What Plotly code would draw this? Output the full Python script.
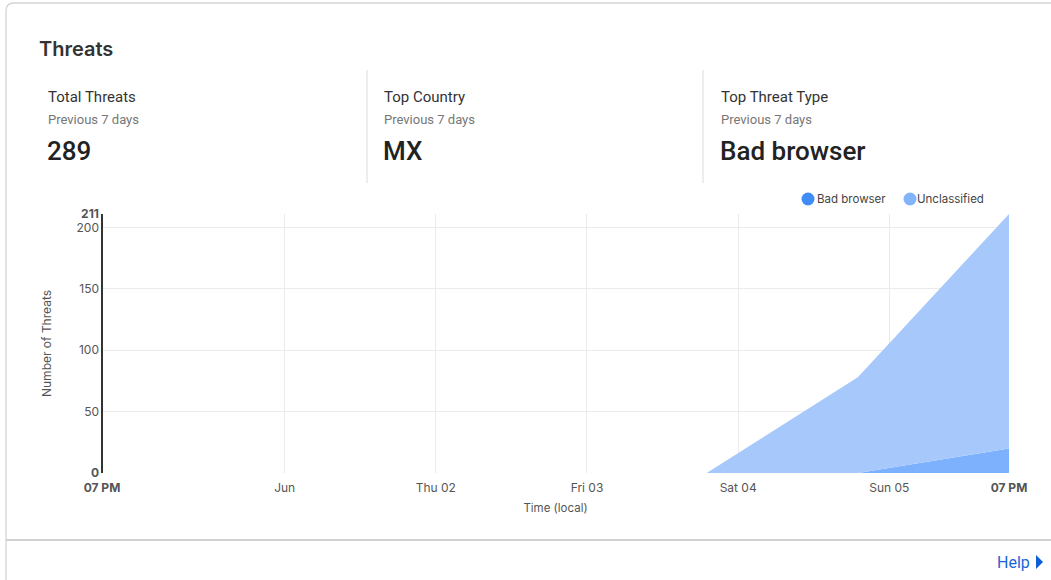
import plotly.graph_objects as go

# ---- data ----
times = ["2022-05-30 19:00", "2022-05-31 19:00", "2022-06-01 19:00", "2022-06-02 19:00",
         "2022-06-03 19:00", "2022-06-04 19:00", "2022-06-05 19:00"]
bad_browser = [0, 0, 0, 0, 0, 0, 20]
unclassified = [0, 0, 0, 0, 0, 78, 191]

x_tickvals = ["2022-05-30 19:00", "2022-06-01 00:00", "2022-06-02 00:00", "2022-06-03 00:00",
              "2022-06-04 00:00", "2022-06-05 00:00", "2022-06-05 19:00"]
x_ticktext = ["<b>07 PM</b>", "Jun", "Thu 02", "Fri 03", "Sat 04", "Sun 05", "<b>07 PM</b>"]
y_tickvals = [0, 50, 100, 150, 200, 211]
y_ticktext = ["<b>0</b>", "50", "100", "150", "200", "<b>211</b>"]

series_names = ["Bad browser", "Unclassified"]
stat_titles = ["Total Threats", "Top Country", "Top Threat Type"]
stat_sub = ["Previous 7 days", "Previous 7 days", "Previous 7 days"]
stat_values = ["289", "MX", "Bad browser"]

# ---- layout geometry (pixels) ----
W, H = 1051, 580
L, R, T, B = 102, 42, 214, 107
PW, PH = W - L - R, H - T - B


def px(x):
    return (x - L) / PW


def py(y):
    return (H - B - y) / PH


FONT = "Inter, Roboto, sans-serif"
C_BAD = "#3f8cf7"
C_UNC = "#82b4fc"

fig = go.Figure()
fig.add_trace(go.Scatter(x=times, y=bad_browser, stackgroup="s", mode="none",
                         fillcolor="rgba(125,177,253,1)", showlegend=False, name=series_names[0]))
fig.add_trace(go.Scatter(x=times, y=unclassified, stackgroup="s", mode="none",
                         fillcolor="rgba(166,200,251,1)", showlegend=False, name=series_names[1]))

shapes = []
# card border
shapes.append(dict(type="path", xref="paper", yref="paper",
                   path=f"M {px(1060)} {py(3)} L {px(14)} {py(3)} Q {px(6)} {py(3)} {px(6)} {py(11)} L {px(6)} {py(590)}",
                   line=dict(color="#d4d4d4", width=1.3)))
# separators
for sx in [367, 703]:
    shapes.append(dict(type="line", xref="paper", yref="paper", x0=px(sx), x1=px(sx),
                       y0=py(70), y1=py(183), line=dict(color="#dcdcdc", width=1)))
shapes.append(dict(type="line", xref="paper", yref="paper", x0=px(6), x1=px(1060),
                   y0=py(540), y1=py(540), line=dict(color="#d0d0d0", width=2)))
# y axis dark line
shapes.append(dict(type="line", xref="paper", yref="paper", x0=0, x1=0, y0=0, y1=1,
                   line=dict(color="#333333", width=2)))
# help triangle
shapes.append(dict(type="path", xref="paper", yref="paper",
                   path=f"M {px(1036)} {py(555)} L {px(1043)} {py(562)} L {px(1036)} {py(569)} Z",
                   fillcolor="#0b5ed7", line=dict(width=0)))
# legend circles
for cx, col in [(808, C_BAD), (910, C_UNC)]:
    shapes.append(dict(type="circle", xref="paper", yref="paper", x0=px(cx - 6.5), x1=px(cx + 6.5),
                       y0=py(199 + 6.5), y1=py(199 - 6.5), fillcolor=col, line=dict(width=0)))

ann = []
ann.append(dict(text="Threats", x=px(37), y=py(49), xref="paper", yref="paper", xanchor="left",
                yanchor="middle", showarrow=False, font=dict(family=FONT, size=20, color="#333", weight=600)))
for i, sx in enumerate([48, 384, 721]):
    ann.append(dict(text=stat_titles[i], x=px(sx - 2), y=py(97), xref="paper", yref="paper", xanchor="left",
                    yanchor="middle", showarrow=False, font=dict(family="Roboto, sans-serif", size=15, color="#333")))
    ann.append(dict(text=stat_sub[i], x=px(sx - 2), y=py(119), xref="paper", yref="paper", xanchor="left",
                    yanchor="middle", showarrow=False, font=dict(family="Roboto, sans-serif", size=13, color="#777")))
    ann.append(dict(text=stat_values[i], x=px(sx - 3), y=py(151), xref="paper", yref="paper", xanchor="left",
                    yanchor="middle", showarrow=False,
                    font=dict(family="Roboto, sans-serif", size=26, color="#222", weight=500)))
for lx, name in [(815, series_names[0]), (915, series_names[1])]:
    ann.append(dict(text=name, x=px(lx), y=py(199), xref="paper", yref="paper", xanchor="left",
                    yanchor="middle", showarrow=False, font=dict(family=FONT, size=11.5, color="#444")))
ann.append(dict(text="Help", x=px(1032), y=py(562), xref="paper", yref="paper", xanchor="right",
                yanchor="middle", showarrow=False, font=dict(family="Roboto, sans-serif", size=16, color="#1a66d6")))

fig.update_layout(
    width=W, height=H,
    margin=dict(l=L, r=R, t=T, b=B, pad=0),
    paper_bgcolor="white", plot_bgcolor="white",
    font=dict(family=FONT, size=12, color="#555"),
    shapes=shapes, annotations=ann, showlegend=False,
    xaxis=dict(type="date", range=[times[0], times[-1]], tickvals=x_tickvals, ticktext=x_ticktext,
               showgrid=True, gridcolor="#ebebeb", gridwidth=1, showline=False, zeroline=False,
               ticks="", ticklabelstandoff=6, tickfont=dict(family=FONT, size=12, color="#555"),
               title=dict(text="Time (local)", font=dict(family=FONT, size=11.5, color="#555"), standoff=9)),
    yaxis=dict(range=[0, 211], tickvals=y_tickvals, ticktext=y_ticktext, showgrid=True,
               gridcolor="#ebebeb", gridwidth=1, zeroline=False, showline=False, ticks="",
               tickfont=dict(family=FONT, size=12, color="#555"), ticklabelstandoff=2,
               title=dict(text="Number of Threats", font=dict(family=FONT, size=12, color="#555"), standoff=22)),
)

fig.write_html("out.html", config={"displayModeBar": False},
               post_script="document.body.style.margin='0';document.body.style.padding='0';")
